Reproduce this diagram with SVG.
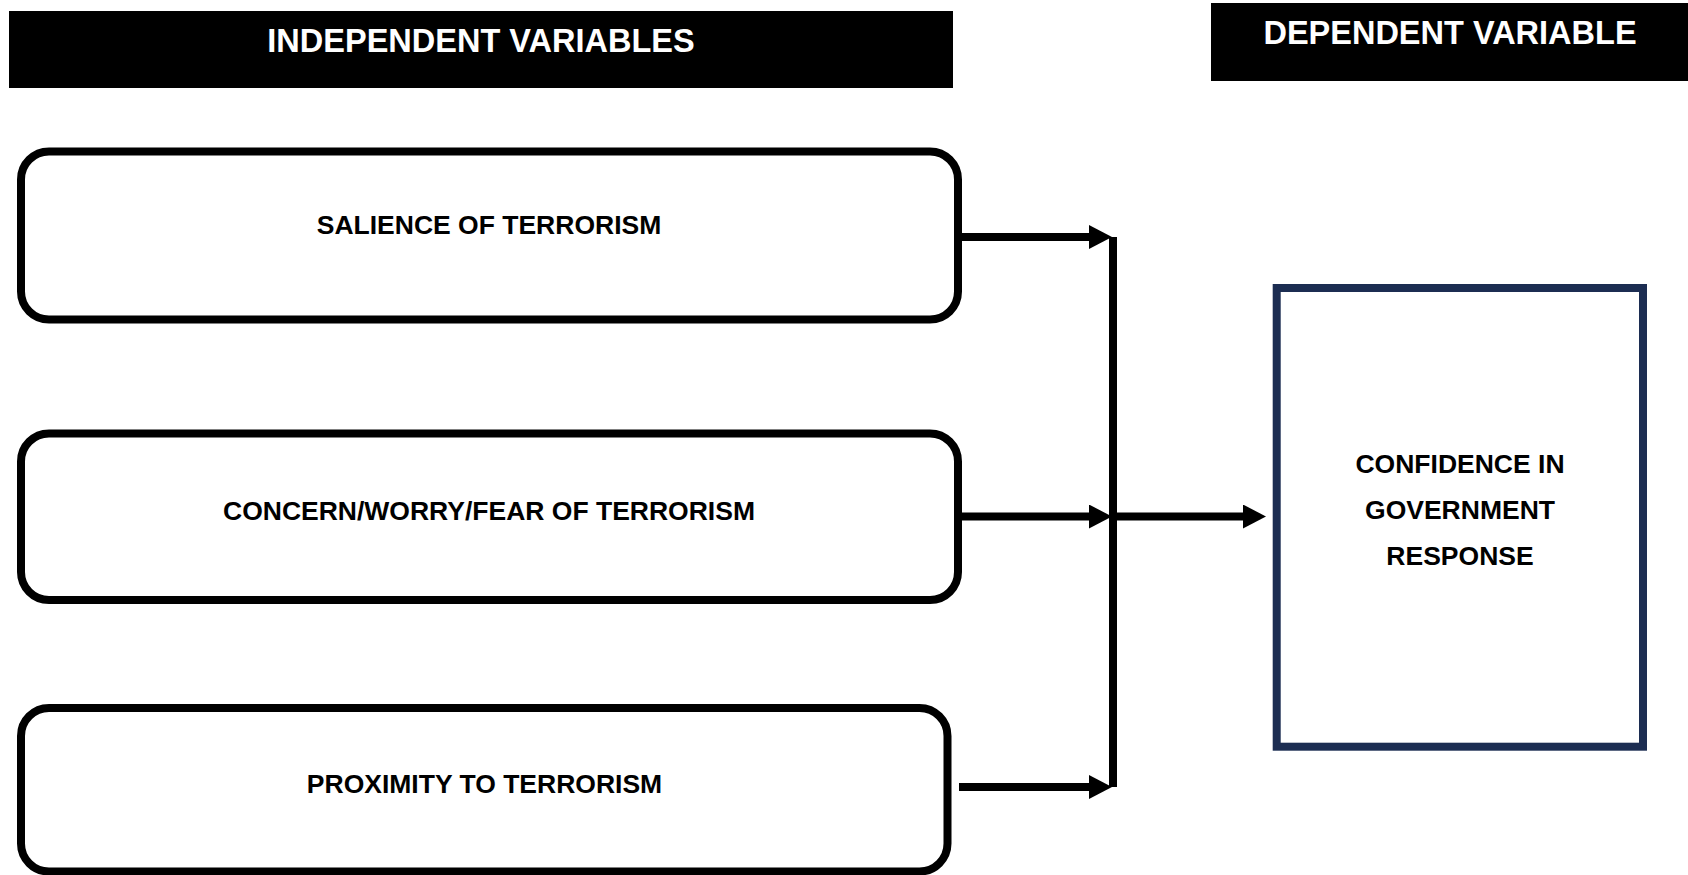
<svg xmlns="http://www.w3.org/2000/svg" width="1688" height="875" viewBox="0 0 1688 875">
<style>
.hdr{fill:#000}
.hdrtxt{font-family:"Liberation Sans",Arial,sans-serif;font-weight:bold;font-size:32.5px;fill:#fff;text-anchor:middle}
.iv{fill:#fff;stroke:#000;stroke-width:8}
.lbl{font-family:"Liberation Sans",Arial,sans-serif;font-weight:bold;font-size:26.5px;fill:#000;text-anchor:middle}
.dv{fill:#fff;stroke:#1c2d52;stroke-width:8}
.conn{fill:none;stroke:#000;stroke-width:8}
</style>
<defs>
<marker id="ah" viewBox="0 0 23 24" refX="0" refY="12" markerWidth="23" markerHeight="24" markerUnits="userSpaceOnUse" orient="auto">
<path d="M0,0 L23,12 L0,24 z" fill="#000"/>
</marker>
</defs>
<rect width="1688" height="875" fill="#fff"/>
<g id="header-independent">
<rect class="hdr" x="9" y="11" width="944" height="77"/>
<text class="hdrtxt" x="481" y="52">INDEPENDENT VARIABLES</text>
</g>
<g id="header-dependent">
<rect class="hdr" x="1211" y="3" width="477" height="78"/>
<text class="hdrtxt" x="1450" y="43.5">DEPENDENT VARIABLE</text>
</g>
<g id="node-salience">
<rect class="iv" x="21" y="151.5" width="937" height="168" rx="28" ry="28"/>
<text class="lbl" x="489" y="234">SALIENCE OF TERRORISM</text>
</g>
<g id="node-concern">
<rect class="iv" x="21" y="433.5" width="937" height="166.5" rx="28" ry="28"/>
<text class="lbl" x="489" y="519.5">CONCERN/WORRY/FEAR OF TERRORISM</text>
</g>
<g id="node-proximity">
<rect class="iv" x="21" y="708" width="926.5" height="163.5" rx="28" ry="28"/>
<text class="lbl" x="484.5" y="792.5">PROXIMITY TO TERRORISM</text>
</g>
<g id="node-confidence">
<rect class="dv" x="1276.7" y="288" width="366.3" height="458.7"/>
<text class="lbl" x="1460" y="473">CONFIDENCE IN</text>
<text class="lbl" x="1460" y="519">GOVERNMENT</text>
<text class="lbl" x="1460" y="565">RESPONSE</text>
</g>
<g id="connectors">
<path class="conn" d="M962,237 H1089" marker-end="url(#ah)"/>
<path class="conn" d="M962,516.5 H1089" marker-end="url(#ah)"/>
<path class="conn" d="M959,787 H1089" marker-end="url(#ah)"/>
<path class="conn" d="M1113,237 V787"/>
<path class="conn" d="M1117,516.5 H1243" marker-end="url(#ah)"/>
</g>
</svg>
